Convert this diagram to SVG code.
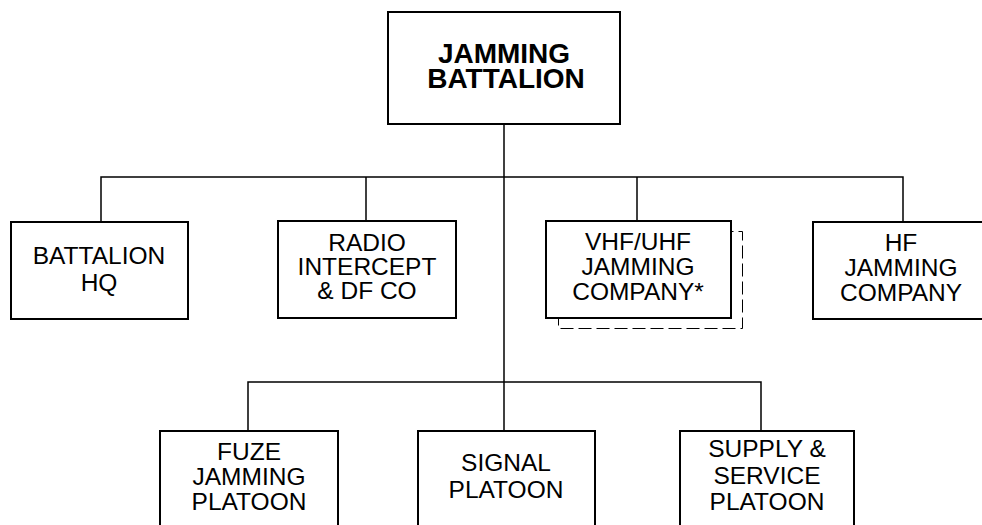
<svg xmlns="http://www.w3.org/2000/svg" width="982" height="525" viewBox="0 0 982 525">
<style>
.box{fill:#fff;stroke:#000;stroke-width:2}
.shadow{fill:#fff;stroke:#000;stroke-width:1;stroke-dasharray:13 5}
.ln{fill:none;stroke:#000;stroke-width:1.5}
text{font-family:"Liberation Sans",Arial,sans-serif;font-size:24.5px;fill:#000;text-anchor:middle}
.b{font-weight:bold;font-size:28px}
</style>
<rect width="982" height="525" fill="#fff"/>
<g id="connectors">
<path class="ln" d="M504 124V431"/>
<path class="ln" d="M101 222V177H903V222"/>
<path class="ln" d="M366 177V221"/>
<path class="ln" d="M637 177V221"/>
<path class="ln" d="M248 431V382H761V431"/>
</g>
<g id="battalion">
<rect class="box" x="388" y="12" width="232" height="112"/>
<text class="b" x="504" y="63">JAMMING</text>
<text class="b" x="506" y="88">BATTALION</text>
</g>
<g id="hq">
<rect class="box" x="11" y="222" width="177" height="97"/>
<text x="99" y="264">BATTALION</text>
<text x="99" y="291">HQ</text>
</g>
<g id="radio">
<rect class="box" x="278" y="221" width="178" height="97"/>
<text x="367" y="251">RADIO</text>
<text x="367" y="275">INTERCEPT</text>
<text x="367" y="299">&amp; DF CO</text>
</g>
<g id="vhf">
<rect class="shadow" x="558.5" y="231.5" width="184" height="97"/>
<rect class="box" x="546" y="221" width="185" height="97"/>
<text x="638" y="250">VHF/UHF</text>
<text x="638" y="275">JAMMING</text>
<text x="638" y="300">COMPANY*</text>
</g>
<g id="hf">
<rect class="box" x="813" y="222" width="178" height="97"/>
<text x="901" y="251">HF</text>
<text x="901" y="276">JAMMING</text>
<text x="901" y="301">COMPANY</text>
</g>
<g id="fuze">
<rect class="box" x="160" y="431" width="178" height="110"/>
<text x="249" y="460">FUZE</text>
<text x="249" y="485">JAMMING</text>
<text x="249" y="510">PLATOON</text>
</g>
<g id="signal">
<rect class="box" x="418" y="431" width="177" height="110"/>
<text x="506" y="471">SIGNAL</text>
<text x="506" y="498">PLATOON</text>
</g>
<g id="supply">
<rect class="box" x="680" y="431" width="174" height="110"/>
<text x="767" y="457">SUPPLY &amp;</text>
<text x="767" y="484">SERVICE</text>
<text x="767" y="510">PLATOON</text>
</g>
</svg>
